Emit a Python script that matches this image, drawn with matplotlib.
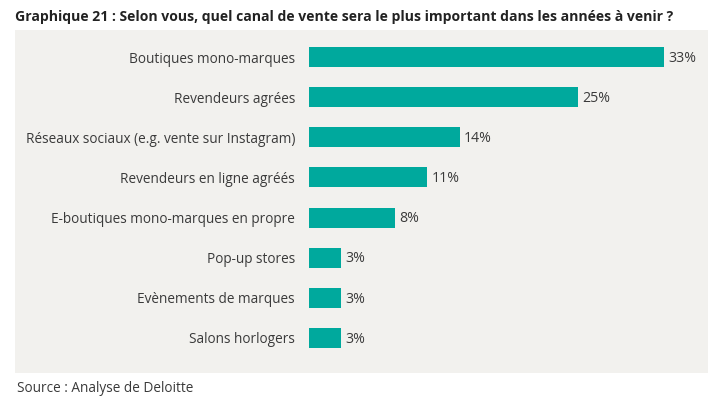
import matplotlib.pyplot as plt

plt.rcParams['font.family'] = ['Open Sans', 'DejaVu Sans']

categories = ['Boutiques mono-marques', 'Revendeurs agrées',
              'Réseaux sociaux (e.g. vente sur Instagram)', 'Revendeurs en ligne agréés',
              'E-boutiques mono-marques en propre', 'Pop-up stores',
              'Evènements de marques', 'Salons horlogers']
values = [33, 25, 14, 11, 8, 3, 3, 3]

bar_color = '#00A99D'
panel_color = '#F2F1EE'
text_color = '#3A3A3A'

fig = plt.figure(figsize=(7.2, 4.05), dpi=100)
fig.patch.set_facecolor('white')

# fond gris du graphique
bg = fig.add_axes([15/720, 1 - 373/405, 693/720, 343/405], zorder=-1)
bg.set_facecolor(panel_color)
bg.set_xticks([])
bg.set_yticks([])
for s in bg.spines.values():
    s.set_visible(False)

ax = fig.add_axes([309/720, 1 - 362/405, 376.6/720, (362 - 33)/405])
ax.set_facecolor('none')

y = list(range(len(categories)))
ax.barh(y, values, height=0.5, color=bar_color)
for yi, v in zip(y, values):
    ax.text(v + 0.4, yi + 0.03, f'{v}%', va='center', ha='left', fontsize=10.2, color=text_color)

ax.set_xlim(0, 35)
ax.set_ylim(len(categories) - 0.4, -0.6)
ax.set_yticks(y)
ax.set_yticklabels(categories, fontsize=9.8, color=text_color)
ax.tick_params(axis='y', length=0, pad=10)
ax.set_xticks([])
for s in ax.spines.values():
    s.set_visible(False)

fig.text(15/720, 1 - 17/405, 'Graphique 21 : Selon vous, quel canal de vente sera le plus important dans les années à venir ?',
         fontsize=10.05, fontweight='bold', color='#222222', va='center', ha='left')
fig.text(17/720, 1 - 388/405, 'Source : Analyse de Deloitte', fontsize=9.8,
         color=text_color, va='center', ha='left')

fig.savefig('out.png', dpi=100)
